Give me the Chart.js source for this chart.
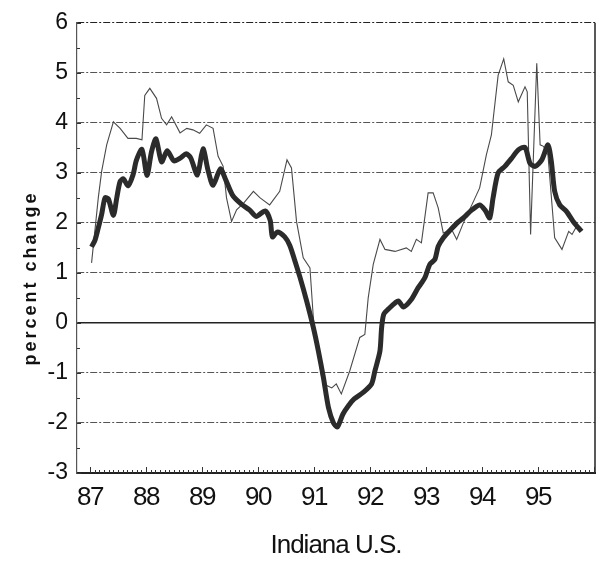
<!DOCTYPE html>
<html>
<head>
<meta charset="utf-8">
<script src="https://cdn.jsdelivr.net/npm/chart.js@4.4.1/dist/chart.umd.min.js"></script>
<style>
  html, body { margin: 0; padding: 0; background: #ffffff; }
  #wrap { width: 597px; height: 563px; }
</style>
</head>
<body>
<div id="wrap"><canvas id="c" width="597" height="563"></canvas></div>
<script>
// ---- data (decimal years, percent change) ----
const xTickYears = [87, 88, 89, 90, 91, 92, 93, 94, 95];
const yTickValues = [-3, -2, -1, 0, 1, 2, 3, 4, 5, 6];

// thick series
const usYears = [87.03,87.09,87.15,87.21,87.27,87.33,87.42,87.48,87.54,87.60,87.68,87.77,87.83,87.93,88.02,88.10,88.18,88.28,88.38,88.50,88.62,88.72,88.80,88.92,89.02,89.11,89.20,89.33,89.43,89.55,89.70,89.85,89.97,90.13,90.22,90.26,90.35,90.48,90.57,90.65,90.75,90.87,90.99,91.08,91.17,91.26,91.35,91.42,91.52,91.62,91.72,91.88,92.03,92.09,92.18,92.21,92.25,92.36,92.45,92.51,92.60,92.74,92.86,92.98,93.07,93.16,93.22,93.31,93.43,93.58,93.70,93.79,93.96,94.06,94.14,94.20,94.29,94.41,94.53,94.65,94.77,94.86,94.95,95.07,95.18,95.24,95.30,95.39,95.51,95.63,95.78];
const usValues = [1.52,1.65,1.90,2.17,2.50,2.48,2.15,2.50,2.83,2.88,2.74,2.96,3.25,3.47,2.95,3.42,3.68,3.22,3.44,3.24,3.30,3.38,3.30,2.96,3.48,3.05,2.75,3.08,2.85,2.55,2.38,2.26,2.13,2.24,2.05,1.72,1.82,1.72,1.55,1.28,0.92,0.44,-0.09,-0.56,-1.09,-1.69,-2.00,-2.08,-1.82,-1.65,-1.52,-1.39,-1.22,-0.96,-0.56,-0.09,0.18,0.31,0.40,0.44,0.32,0.47,0.70,0.90,1.17,1.27,1.53,1.70,1.85,2.02,2.13,2.23,2.36,2.25,2.10,2.50,3.00,3.13,3.29,3.46,3.51,3.19,3.13,3.26,3.56,3.23,2.63,2.36,2.23,2.03,1.83];

// thin series
const indianaYears = [87.03,87.15,87.21,87.30,87.42,87.54,87.68,87.83,87.93,87.98,88.07,88.19,88.28,88.37,88.46,88.61,88.73,88.84,88.96,89.08,89.20,89.29,89.38,89.44,89.53,89.62,89.75,89.92,90.04,90.21,90.39,90.52,90.60,90.69,90.81,90.93,90.99,91.05,91.14,91.23,91.32,91.40,91.49,91.64,91.82,91.91,91.97,92.06,92.18,92.27,92.45,92.65,92.74,92.83,92.92,93.04,93.13,93.22,93.31,93.46,93.55,93.67,93.85,93.96,94.08,94.17,94.29,94.39,94.47,94.56,94.65,94.77,94.81,94.87,94.98,95.04,95.10,95.18,95.30,95.43,95.55,95.61,95.70,95.78];
const indianaValues = [1.20,2.50,3.03,3.56,4.02,3.89,3.69,3.69,3.66,4.55,4.69,4.49,4.09,3.96,4.12,3.80,3.89,3.86,3.79,3.96,3.89,3.33,3.13,2.50,2.03,2.26,2.40,2.63,2.50,2.36,2.63,3.26,3.10,2.03,1.30,1.10,0.11,-0.42,-1.09,-1.25,-1.30,-1.22,-1.42,-0.96,-0.29,-0.23,0.50,1.17,1.67,1.47,1.43,1.50,1.43,1.67,1.60,2.60,2.60,2.30,1.80,1.87,1.67,2.00,2.43,2.70,3.36,3.76,4.95,5.28,4.82,4.75,4.42,4.72,4.62,1.77,5.19,3.56,3.53,3.36,1.70,1.47,1.83,1.77,1.95,1.85];

const toPoints = (xs, ys) => xs.map((x, i) => ({ x: x, y: ys[i] }));

const SANS = "'Liberation Sans', Arial, sans-serif";

// inward tick marks and right frame, drawn through the scales
const frameTicks = {
  id: 'frameTicks',
  afterDraw(chart) {
    const ctx = chart.ctx;
    const xs = chart.scales.x, ys = chart.scales.y;
    const a = chart.chartArea;
    ctx.save();
    ctx.strokeStyle = '#222';
    ctx.lineWidth = 1.5;
    ctx.beginPath();
    ctx.moveTo(a.right, a.top);
    ctx.lineTo(a.right, a.bottom);
    ctx.stroke();
    ctx.lineWidth = 1;
    ctx.strokeStyle = '#333';
    ctx.beginPath();
    for (let m = 87 * 12; m <= 96 * 12; m++) {
      const v = m / 12;
      if (v < xs.min || v > xs.max) continue;
      const px = Math.round(xs.getPixelForValue(v)) + 0.5;
      const len = (m % 12 === 0) ? 6 : 3;
      ctx.moveTo(px, a.bottom);
      ctx.lineTo(px, a.bottom - len);
    }
    for (let h = -6; h <= 12; h++) {
      const py = Math.round(ys.getPixelForValue(h / 2)) + 0.5;
      const len = (h % 2 === 0) ? 4 : 3;
      ctx.moveTo(a.left, py);
      ctx.lineTo(a.left + len, py);
    }
    ctx.stroke();
    ctx.restore();
  }
};

// adjust spacing / offset of axis texts at draw time
function patchText(scale, method, dx, dy, spacing) {
  const flag = '_patched_' + method;
  if (scale[flag]) return;
  const orig = scale[method];
  scale[method] = function (...args) {
    const ctx = this.ctx;
    ctx.save();
    ctx.translate(dx, dy);
    if ('letterSpacing' in ctx) ctx.letterSpacing = spacing;
    orig.apply(this, args);
    ctx.restore();
  };
  scale[flag] = true;
}

new Chart(document.getElementById('c'), {
  type: 'line',
  data: {
    datasets: [
      {
        label: 'U.S.',
        data: toPoints(usYears, usValues),
        borderColor: '#2b2b2b',
        borderWidth: 5,
        pointRadius: 0,
        tension: 0.25,
        order: 1
      },
      {
        label: 'Indiana',
        data: toPoints(indianaYears, indianaValues),
        borderColor: '#4a4a4a',
        borderWidth: 1.1,
        pointRadius: 0,
        tension: 0,
        order: 2
      }
    ]
  },
  options: {
    responsive: false,
    animation: false,
    devicePixelRatio: 1,
    layout: { padding: { left: 0, right: 2, top: 21, bottom: 0 } },
    plugins: {
      legend: { display: false },
      tooltip: { enabled: false }
    },
    scales: {
      x: {
        type: 'linear',
        min: 86.77,
        max: 96.02,
        afterBuildTicks: (s) => { s.ticks = xTickYears.map(v => ({ value: v })); },
        afterFit: (s) => {
          s.height = 90;
          patchText(s, 'drawLabels', 0, 0, '-1.5px');
          patchText(s, 'drawTitle', 0, 0, '-1px');
        },
        grid: { display: false, drawTicks: false },
        border: { display: true, color: '#222', width: 2 },
        ticks: {
          color: '#111',
          padding: 9,
          maxRotation: 0,
          autoSkip: false,
          font: { family: SANS, size: 26 },
          callback: (v) => String(v)
        },
        title: {
          display: true,
          text: 'Indiana U.S.',
          color: '#111',
          font: { family: SANS, size: 26, lineHeight: 1 },
          padding: { top: 0, bottom: 4 }
        }
      },
      y: {
        min: -3,
        max: 6,
        afterBuildTicks: (s) => { s.ticks = yTickValues.map(v => ({ value: v })); },
        afterFit: (s) => { s.width = 77; patchText(s, 'drawTitle', 0, 30, '3px'); },
        grid: {
          drawTicks: false,
          color: (c) => (c.tick && (c.tick.value === 0 || c.tick.value === 6)) ? '#222' : '#555',
          lineWidth: (c) => (c.tick && c.tick.value === 0) ? 1.5 : 1
        },
        border: {
          display: true,
          color: '#555',
          width: 1.2,
          dash: (c) => (c.tick && c.tick.value === 0) ? [] : [7, 2, 2, 2]
        },
        ticks: {
          color: '#111',
          padding: 9,
          font: { family: SANS, size: 23 },
          callback: (v) => String(v)
        },
        title: {
          display: true,
          text: 'percent change',
          color: '#111',
          font: { family: SANS, size: 18, weight: 'bold', lineHeight: 1 },
          padding: { top: 22, bottom: 0 }
        }
      }
    }
  },
  plugins: [frameTicks]
});
</script>
</body>
</html>
